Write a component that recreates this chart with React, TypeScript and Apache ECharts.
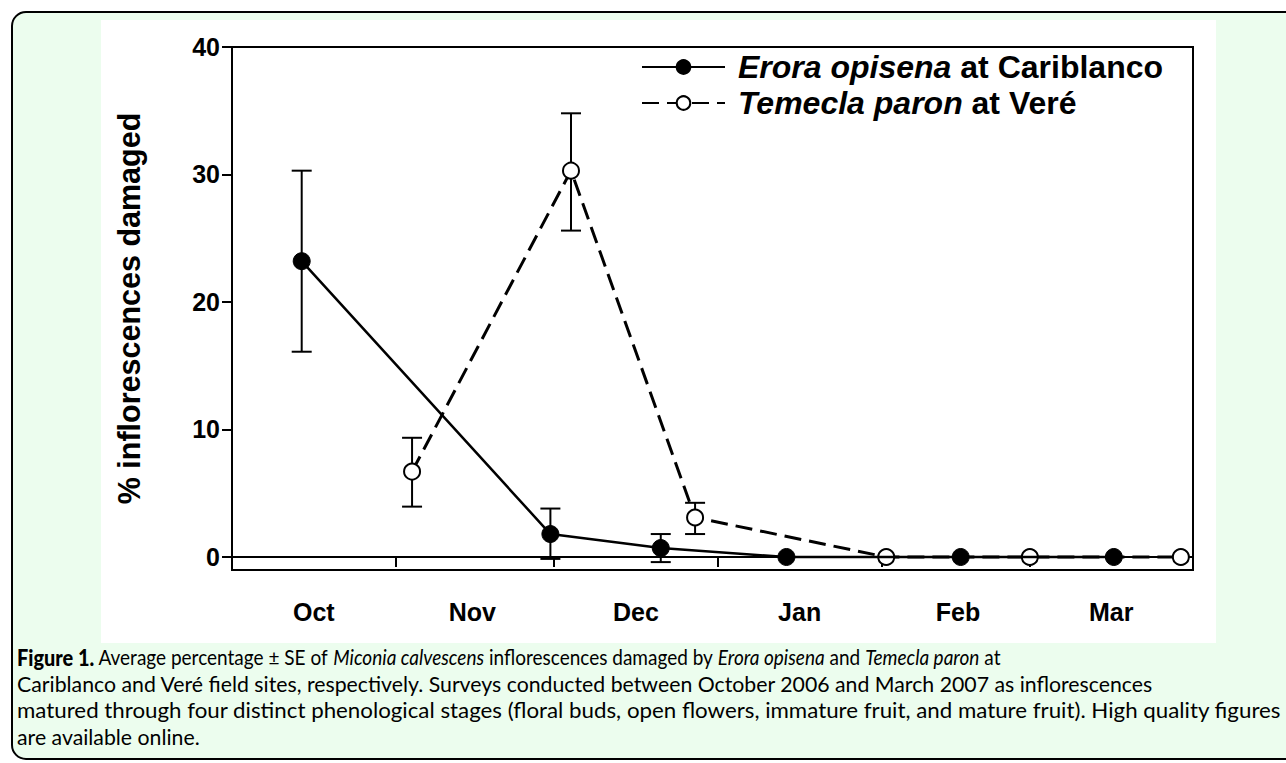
import React, { useEffect, useRef } from "react";
import * as echarts from "echarts";

// ---- data ----
const monthLabels = ["Oct", "Nov", "Dec", "Jan", "Feb", "Mar"];
const monthStartDays = [0, 31, 61, 92, 123, 151]; // days since 1 Oct 2006
const monthMidDays = [15.5, 45.5, 76.5, 107.5, 137.5, 166.5];
const yTicks = [0, 10, 20, 30, 40];

const eroraName = "Erora opisena at Cariblanco";
const eroraDays = [13.2, 60.3, 81.2, 105, 138, 167];
const eroraMean = [23.2, 1.8, 0.7, 0, 0, 0];
const eroraLow = [16.1, -0.15, -0.4];
const eroraHigh = [30.3, 3.8, 1.8];

const temeclaName = "Temecla paron at Veré";
const temeclaDays = [34.1, 64.2, 87.7, 123.9, 151.1, 179.7];
const temeclaMean = [6.7, 30.3, 3.1, 0, 0, 0];
const temeclaLow = [3.95, 25.6, 1.8];
const temeclaHigh = [9.35, 34.8, 4.25];

const captionLines = [
  "{b|Figure 1.} Average percentage ± SE of {i|Miconia calvescens} inflorescences damaged by {i|Erora opisena} and {i|Temecla paron} at",
  "Cariblanco and Veré field sites, respectively. Surveys conducted between October 2006 and March 2007 as inflorescences",
  "matured through four distinct phenological stages (floral buds, open flowers, immature fruit, and mature fruit). High quality figures",
  "are available online.",
];
const captionWidths = [983, 1138, 1265, 0];

const FONT = "'Liberation Sans', Arial, sans-serif";
const CAP_FONT = "Lato, 'Open Sans', sans-serif";
const CAP_SIZE = 21;
const CAP_B_SIZE = 22;

function measureLine(line: string): number {
  const cv = document.createElement("canvas");
  const ctx = cv.getContext("2d");
  if (!ctx) return 1;
  const re = /\{(\w)\|([^}]*)\}|([^{]+)/g;
  let m: RegExpExecArray | null;
  let w = 0;
  while ((m = re.exec(line))) {
    if (m[1] === "b") ctx.font = `900 ${CAP_B_SIZE}px ${CAP_FONT}`;
    else if (m[1] === "i") ctx.font = `italic normal ${CAP_SIZE}px ${CAP_FONT}`;
    else ctx.font = `normal ${CAP_SIZE}px ${CAP_FONT}`;
    w += ctx.measureText(m[1] ? m[2] : m[3]).width;
  }
  return w;
}

function errorBarItem(params: any, api: any) {
  const x = api.value(0);
  const lo = api.coord([x, api.value(1)]);
  const hi = api.coord([x, api.value(2)]);
  const hw = 10;
  const style = { stroke: "#000", lineWidth: 2 };
  return {
    type: "group",
    children: [
      { type: "line", shape: { x1: lo[0], y1: lo[1], x2: hi[0], y2: hi[1] }, style },
      { type: "line", shape: { x1: lo[0] - hw, y1: lo[1], x2: lo[0] + hw, y2: lo[1] }, style },
      { type: "line", shape: { x1: hi[0] - hw, y1: hi[1], x2: hi[0] + hw, y2: hi[1] }, style },
    ],
  };
}

export default function App() {
  const ref = useRef<HTMLDivElement>(null);
  useEffect(() => {
    if (!ref.current) return;
    const chart = echarts.init(ref.current, null, { renderer: "svg" });
    const eroraPts = eroraDays.map((d, i) => [d, eroraMean[i]]);
    const temeclaPts = temeclaDays.map((d, i) => [d, temeclaMean[i]]);
    const eroraErr = eroraLow.map((l, i) => [eroraDays[i], l, eroraHigh[i]]);
    const temeclaErr = temeclaLow.map((l, i) => [temeclaDays[i], l, temeclaHigh[i]]);

    const scales = captionLines.map((t, i) => {
      const w = measureLine(t);
      return captionWidths[i] > 0 && w > 0 ? captionWidths[i] / w : 0;
    });
    const fallbackScale = scales[1] || 1;

    const captionGraphics = captionLines.map((t, i) => ({
      type: "text",
      x: 17,
      y: 657 + i * 26.7,
      scaleX: scales[i] || fallbackScale,
      z: 5,
      style: {
        text: t,
        fontFamily: CAP_FONT,
        fontSize: CAP_SIZE,
        fill: "#000",
        verticalAlign: "middle",
        rich: {
          b: { fontFamily: CAP_FONT, fontSize: CAP_B_SIZE, fontWeight: 900, fill: "#000" },
          i: { fontFamily: CAP_FONT, fontSize: CAP_SIZE, fontStyle: "italic", fill: "#000" },
        },
      },
    }));

    chart.setOption({
      animation: false,
      graphic: [
        {
          type: "rect",
          z: -20,
          shape: { x: 12, y: 12, width: 1320, height: 747, r: 14 },
          style: { fill: "#ecfdee", stroke: "#000", lineWidth: 2 },
        },
        {
          type: "rect",
          z: -19,
          shape: { x: 101, y: 20, width: 1115, height: 623 },
          style: { fill: "#ffffff" },
        },
        ...captionGraphics,
      ],
      grid: {
        left: 232,
        right: 93,
        top: 47,
        bottom: 193,
        show: true,
        borderColor: "#000",
        borderWidth: 2,
        backgroundColor: "transparent",
      },
      legend: {
        data: [eroraName, temeclaName],
        orient: "vertical",
        left: 641,
        top: 51,
        padding: 0,
        itemWidth: 83,
        itemHeight: 17,
        itemGap: 4,
        formatter: (name: string) =>
          name === eroraName ? "{i|Erora opisena} at Cariblanco" : "{i|Temecla paron} at Veré",
        textStyle: {
          fontFamily: FONT,
          fontSize: 32,
          fontWeight: "bold",
          color: "#000",
          lineHeight: 32,
          padding: [0, 0, 0, 8],
          rich: {
            i: { fontFamily: FONT, fontSize: 32, fontWeight: "bold", fontStyle: "italic", color: "#000" },
          },
        },
      },
      xAxis: {
        type: "value",
        min: 0,
        max: 182,
        splitLine: { show: false },
        axisLine: { lineStyle: { color: "#000", width: 2 } },
        axisTick: {
          show: true,
          inside: false,
          length: 10,
          lineStyle: { color: "#000", width: 2 },
          customValues: monthStartDays,
        },
        axisLabel: {
          customValues: monthMidDays,
          formatter: (v: number) => monthLabels[monthMidDays.indexOf(v)] ?? "",
          fontFamily: FONT,
          fontSize: 25,
          fontWeight: "bold",
          color: "#000",
          margin: 29,
        },
      },
      yAxis: {
        type: "value",
        min: -1.02,
        max: 40,
        name: "% inflorescences damaged",
        nameLocation: "middle",
        nameGap: 88,
        nameTextStyle: { fontFamily: FONT, fontSize: 30.5, fontWeight: "bold", color: "#000" },
        splitLine: { show: false },
        axisLine: { show: true, lineStyle: { color: "#000", width: 2 } },
        axisTick: {
          show: true,
          inside: false,
          length: 10,
          lineStyle: { color: "#000", width: 2 },
          customValues: yTicks,
        },
        axisLabel: {
          customValues: yTicks,
          fontFamily: FONT,
          fontSize: 25,
          fontWeight: "bold",
          color: "#000",
          margin: 12,
        },
      },
      series: [
        {
          type: "custom",
          name: "eroraErr",
          z: 1,
          renderItem: errorBarItem,
          encode: { x: 0, y: [1, 2] },
          data: eroraErr,
        },
        {
          type: "custom",
          name: "temeclaErr",
          z: 1,
          renderItem: errorBarItem,
          encode: { x: 0, y: [1, 2] },
          data: temeclaErr,
        },
        {
          type: "line",
          name: temeclaName,
          z: 3,
          data: temeclaPts,
          symbol: "circle",
          symbolSize: 16,
          lineStyle: { color: "#000", width: 3, type: [17, 8] },
          itemStyle: { color: "#fff", borderColor: "#000", borderWidth: 2 },
        },
        {
          type: "line",
          name: eroraName,
          z: 4,
          data: eroraPts,
          symbol: "circle",
          symbolSize: 17,
          lineStyle: { color: "#000", width: 2.5, type: "solid" },
          itemStyle: { color: "#000", borderColor: "#000", borderWidth: 1 },
        },
      ],
    });
    return () => chart.dispose();
  }, []);
  return (
    <div
      ref={ref}
      style={{ position: "absolute", left: 0, top: 0, width: 1286, height: 763, background: "#fff" }}
    />
  );
}
